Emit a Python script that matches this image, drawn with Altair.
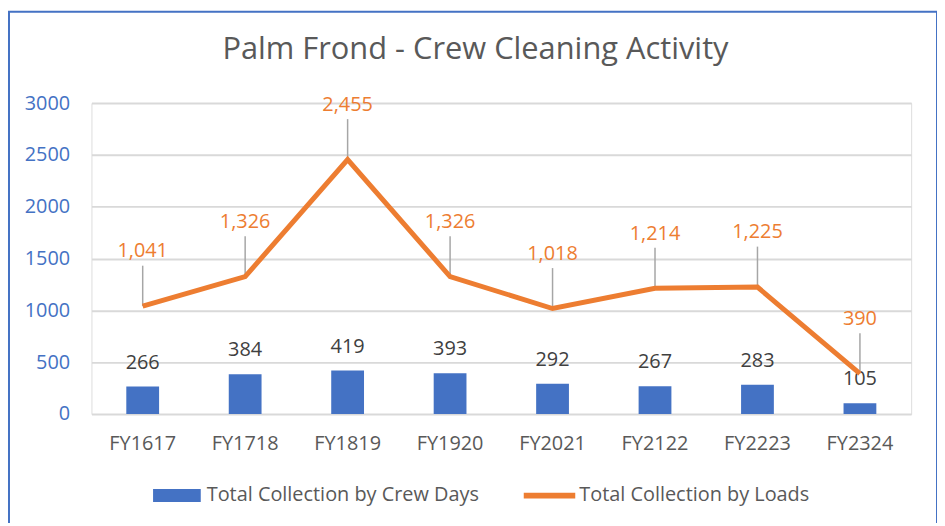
import altair as alt
import pandas as pd

# ---- data ----
years = ["FY1617", "FY1718", "FY1819", "FY1920", "FY2021", "FY2122", "FY2223", "FY2324"]
crew_days = [266, 384, 419, 393, 292, 267, 283, 105]
loads = [1041, 1326, 2455, 1326, 1018, 1214, 1225, 390]
series_names = ["Total Collection by Crew Days", "Total Collection by Loads"]
y_ticks = [0, 500, 1000, 1500, 2000, 2500, 3000]

BLUE = "#4472C4"
ORANGE = "#ED7D31"
GRAY_TXT = "#595959"
FONT = "Open Sans"
FS = 20

df = pd.DataFrame({"fy": years, "days": crew_days, "loads": loads})
long_df = pd.concat([
    pd.DataFrame({"fy": years, "value": crew_days, "series": series_names[0]}),
    pd.DataFrame({"fy": years, "value": loads, "series": series_names[1]}),
], ignore_index=True)

x_enc = alt.X(
    "fy:N", sort=years, title=None,
    scale=alt.Scale(paddingInner=0, paddingOuter=0),
    axis=alt.Axis(labelFontSize=FS, labelColor=GRAY_TXT, labelFont=FONT,
                  ticks=False, domain=False, labelPadding=20, labelAngle=0),
)
y_scale = alt.Scale(domain=[0, 3000], nice=False)
y_axis = alt.Axis(values=y_ticks, format="d", labelFontSize=FS, labelColor=BLUE,
                  labelFont=FONT, ticks=False, domain=False, labelPadding=22,
                  gridColor="#d9d9d9", gridWidth=2)

base = alt.Chart(df)

bars = base.mark_bar(color=BLUE, size=33).encode(
    x=x_enc,
    y=alt.Y("days:Q", scale=y_scale, axis=y_axis, title=None),
)

bar_labels = base.mark_text(dy=-24, fontSize=FS, font=FONT, color="#404040",
                            baseline="middle").encode(
    x=alt.X("fy:N", sort=years),
    y=alt.Y("days:Q"),
    text=alt.Text("days:Q", format="d"),
)

leaders = base.transform_calculate(top="datum.loads + 390").mark_rule(
    color="#a6a6a6", strokeWidth=1.5
).encode(
    x=alt.X("fy:N", sort=years),
    y=alt.Y("loads:Q"),
    y2=alt.Y2("top:Q"),
)

line = base.mark_line(color=ORANGE, strokeWidth=5, strokeJoin="miter").encode(
    x=alt.X("fy:N", sort=years),
    y=alt.Y("loads:Q"),
)

line_labels = base.mark_text(dy=-55, fontSize=FS, font=FONT, color=ORANGE,
                             baseline="middle").encode(
    x=alt.X("fy:N", sort=years),
    y=alt.Y("loads:Q"),
    text=alt.Text("loads:Q", format=","),
)

# legend only: no marks drawn, the scales carry the series names
legend_layer = alt.Chart(long_df).transform_filter("false").mark_point(
    filled=True, opacity=1
).encode(
    x=alt.X("fy:N", sort=years),
    y=alt.Y("value:Q"),
    color=alt.Color("series:N", title=None,
                    scale=alt.Scale(domain=series_names, range=[BLUE, ORANGE]),
                    legend=alt.Legend(orient="none", legendX=62, legendY=371,
                                      direction="horizontal", symbolSize=2304,
                                      symbolOpacity=1, symbolStrokeWidth=0,
                                      labelFontSize=FS, labelFont=FONT,
                                      labelColor=GRAY_TXT, labelOffset=6,
                                      labelLimit=0,
                                      columnPadding=44, padding=0)),
    shape=alt.Shape("series:N", title=None,
                    scale=alt.Scale(domain=series_names,
                                    range=["M-1,-0.27H1V0.27H-1Z",
                                           "M-1.08,-0.12H1.08V0.12H-1.08Z"])),
)

border = alt.Chart(pd.DataFrame({"a": [0]})).mark_rect(
    fill=None, stroke=BLUE, strokeWidth=2
).encode(
    x=alt.value(-83), x2=alt.value(851), y=alt.value(-92), y2=alt.value(440)
)

chart = alt.layer(
    border, bars, bar_labels, leaders, line, line_labels, legend_layer
).properties(
    width=825, height=313,
    autosize="none",
    padding={"left": 84, "top": 94, "right": 26, "bottom": 108},
    title=alt.TitleParams("Palm Frond - Crew Cleaning Activity", fontSize=31,
                          font=FONT, color=GRAY_TXT, fontWeight="normal",
                          anchor="middle", frame="group", dx=-26,
                          baseline="alphabetic", offset=-80),
).configure_view(stroke=None).configure(background="white")

chart.save("out.html", embed_options={"renderer": "svg", "actions": False})
